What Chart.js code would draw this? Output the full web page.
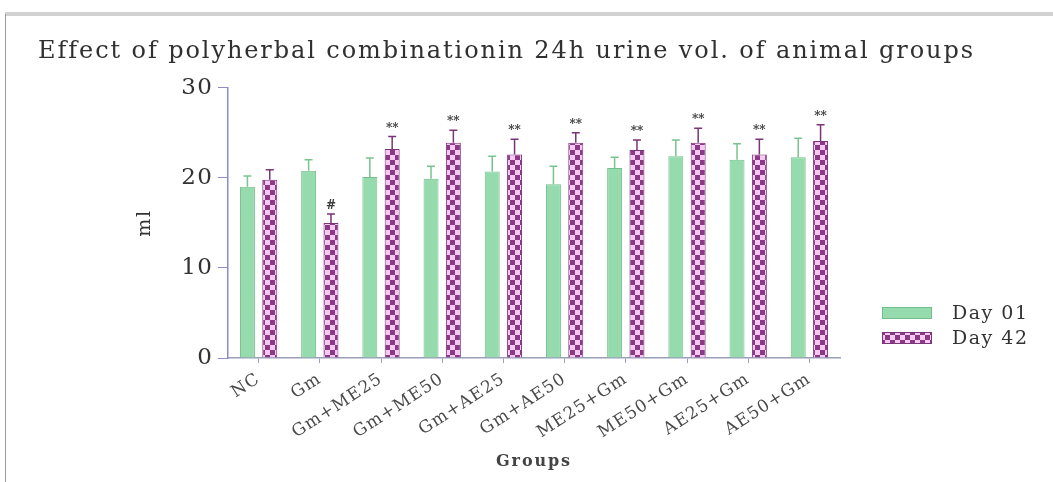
<!DOCTYPE html>
<html>
<head>
<meta charset="utf-8">
<script src="https://cdn.jsdelivr.net/npm/chart.js@4/dist/chart.umd.min.js"></script>
<style>
  html, body { margin: 0; padding: 0; background: #fff; }
  #wrap { position: relative; width: 1053px; height: 482px; }
  canvas { display: block; }
</style>
</head>
<body>
<div id="wrap"><canvas id="c" width="1053" height="482"></canvas></div>
<script>
const categories = ['NC', 'Gm', 'Gm+ME25', 'Gm+ME50', 'Gm+AE25', 'Gm+AE50', 'ME25+Gm', 'ME50+Gm', 'AE25+Gm', 'AE50+Gm'];
const day01 = [19.0, 20.8, 20.1, 19.9, 20.7, 19.3, 21.1, 22.4, 22.0, 22.3];
const day01Err = [1.2, 1.2, 2.1, 1.4, 1.7, 2.0, 1.2, 1.8, 1.8, 2.1];
const day42 = [19.8, 15.0, 23.2, 23.9, 22.6, 23.9, 23.1, 23.9, 22.6, 24.1];
const day42Err = [1.1, 1.0, 1.4, 1.4, 1.7, 1.1, 1.1, 1.6, 1.7, 1.8];
const day01Sig = ['', '', '', '', '', '', '', '', '', ''];
const day42Sig = ['', '#', '**', '**', '**', '**', '**', '**', '**', '**'];
const seriesNames = ['Day 01', 'Day 42'];
const yTickValues = [0, 10, 20, 30];

function checker() {
  const c = document.createElement('canvas');
  c.width = 10; c.height = 10;
  const g = c.getContext('2d');
  g.fillStyle = '#f6c8f2';
  g.fillRect(0, 0, 10, 10);
  g.fillStyle = '#8a3a84';
  g.fillRect(0, 0, 5, 5);
  g.fillRect(5, 5, 5, 5);
  return g.createPattern(c, 'repeat');
}
const pinkPattern = checker();

const TITLE_SPACING = '1.9px';
const TICK_SPACING = '1.2px';
const spacing = {
  id: 'spacing',
  beforeUpdate(chart) { chart.ctx.letterSpacing = TITLE_SPACING; },
  beforeDraw(chart) { chart.ctx.letterSpacing = TITLE_SPACING; },
  afterDatasetsDraw(chart) { chart.ctx.letterSpacing = TICK_SPACING; }
};

const frame = {
  id: 'frame',
  beforeDraw(chart) {
    const ctx = chart.ctx;
    ctx.save();
    ctx.fillStyle = '#ffffff';
    ctx.fillRect(0, 0, chart.width, chart.height);
    ctx.fillStyle = '#d2d2d2';
    ctx.fillRect(5, 12, chart.width - 5, 4);
    ctx.fillStyle = '#9a9a9a';
    ctx.fillRect(5, 14, 1, chart.height - 14);
    ctx.restore();
  }
};

const errBars = {
  id: 'errBars',
  afterDatasetsDraw(chart) {
    const ctx = chart.ctx;
    const y = chart.scales.y;
    const errs = [day01Err, day42Err];
    const sigs = [day01Sig, day42Sig];
    const cols = ['#78c48e', '#7a3478'];
    chart.data.datasets.forEach((ds, di) => {
      const meta = chart.getDatasetMeta(di);
      meta.data.forEach((bar, i) => {
        const v = ds.data[i];
        const top = y.getPixelForValue(v + errs[di][i]);
        ctx.save();
        ctx.strokeStyle = cols[di];
        ctx.lineWidth = 1.5;
        ctx.beginPath();
        ctx.moveTo(bar.x, bar.y);
        ctx.lineTo(bar.x, top);
        ctx.moveTo(bar.x - 4, top);
        ctx.lineTo(bar.x + 4, top);
        ctx.stroke();
        if (sigs[di][i]) {
          ctx.letterSpacing = '0px';
          ctx.fillStyle = '#3a3a3a';
          ctx.font = 'bold 12px "DejaVu Serif"';
          ctx.textAlign = 'center';
          ctx.textBaseline = 'middle';
          ctx.fillText(sigs[di][i], bar.x, top - 8);
        }
        ctx.restore();
      });
    });
  }
};

const legendBoxes = {
  id: 'legendBoxes',
  afterDraw(chart) {
    const ctx = chart.ctx;
    const a = chart.chartArea;
    chart.data.datasets.forEach((ds, di) => {
      const cy = a.bottom - 45 + di * 25;
      ctx.save();
      ctx.fillStyle = ds.backgroundColor;
      ctx.fillRect(a.right + 42, cy - 6, 50, 12);
      ctx.strokeStyle = ds.borderColor;
      ctx.lineWidth = 1;
      ctx.strokeRect(a.right + 42.5, cy - 5.5, 49, 11);
      ctx.letterSpacing = '1.5px';
      ctx.fillStyle = '#333';
      ctx.font = '19px "DejaVu Serif"';
      ctx.textAlign = 'left';
      ctx.textBaseline = 'middle';
      ctx.fillText(ds.label, a.right + 112, cy + 1);
      ctx.restore();
    });
  }
};

new Chart(document.getElementById('c'), {
  type: 'bar',
  data: {
    labels: categories,
    datasets: [
      { label: seriesNames[0], data: day01, backgroundColor: '#95dbad', borderColor: '#72bf8b', borderWidth: 1 },
      { label: seriesNames[1], data: day42, backgroundColor: pinkPattern, borderColor: '#7a3478', borderWidth: 1 }
    ]
  },
  options: {
    responsive: false,
    animation: false,
    devicePixelRatio: 1,
    categoryPercentage: 0.73,
    barPercentage: 0.67,
    layout: { padding: { left: 38, right: 78, top: 0, bottom: 0 } },
    plugins: {
      legend: { display: false },
      tooltip: { enabled: false },
      title: {
        display: true,
        text: 'Effect of polyherbal combinationin 24h urine vol. of animal groups',
        color: '#303030',
        font: { family: 'DejaVu Serif', size: 24, weight: 'normal' },
        padding: { top: 37, bottom: 22 }
      }
    },
    scales: {
      x: {
        grid: { display: true, drawOnChartArea: false, offset: false, tickLength: 5, color: '#9aa0b8' },
        border: { color: '#9aa0b8', width: 1.5 },
        ticks: {
          z: 1,
          color: '#4a4a4a',
          font: { family: 'DejaVu Serif', size: 17 },
          maxRotation: 33, minRotation: 33, padding: 6, autoSkip: false
        },
        title: {
          display: true, text: 'Groups', color: '#444',
          font: { family: 'DejaVu Serif', size: 16, weight: 'bold' },
          padding: { top: 0, bottom: 11 }
        },
        afterFit(s) { s.height = 124; }
      },
      y: {
        min: 0, max: 30,
        afterBuildTicks(s) { s.ticks = yTickValues.map(v => ({ value: v })); },
        grid: { display: true, drawOnChartArea: false, tickLength: 10, color: '#8c8cc8' },
        border: { color: '#8c8cc8', width: 1.5 },
        ticks: { z: 1, color: '#333', font: { family: 'DejaVu Serif', size: 23 }, padding: 5 },
        title: {
          display: true, text: 'ml', color: '#333',
          font: { family: 'DejaVu Serif', size: 19 },
          padding: { top: 96, bottom: 0 }
        },
        afterFit(s) { s.width = 190; }
      },
      yRight: {
        position: 'right', display: true, min: 0, max: 30,
        grid: { display: false }, border: { display: false },
        ticks: { display: false }, title: { display: false },
        afterFit(s) { s.width = 135; }
      }
    }
  },
  plugins: [spacing, frame, errBars, legendBoxes]
});
</script>
</body>
</html>
